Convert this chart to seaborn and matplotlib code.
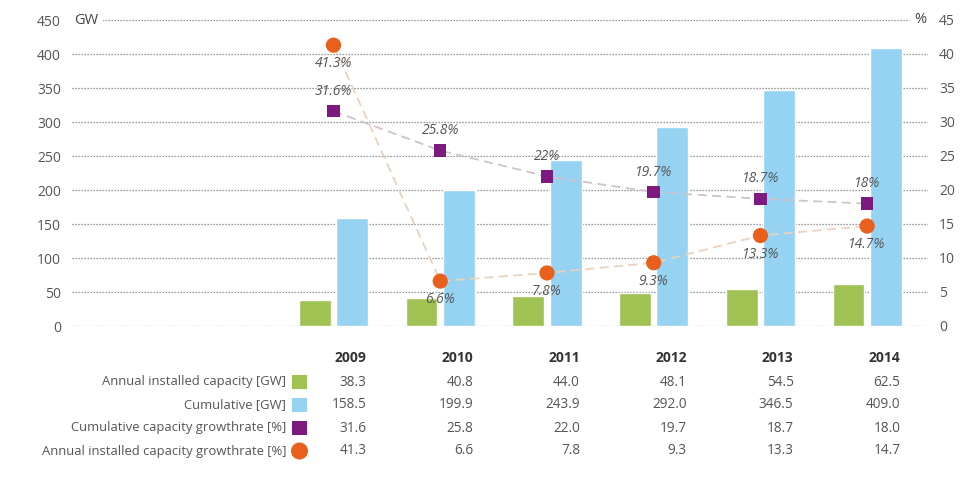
import pandas as pd
import numpy as np
import matplotlib
matplotlib.use('Agg')
import matplotlib.pyplot as plt
import matplotlib.transforms as mtransforms
import seaborn as sns

# Data
years = ['2009', '2010', '2011', '2012', '2013', '2014']
annual_gw = [38.3, 40.8, 44.0, 48.1, 54.5, 62.5]
cumulative_gw = [158.5, 199.9, 243.9, 292.0, 346.5, 409.0]
cum_rate = [31.6, 25.8, 22.0, 19.7, 18.7, 18.0]
annual_rate = [41.3, 6.6, 7.8, 9.3, 13.3, 14.7]
cum_rate_labels = ['31.6%', '25.8%', '22%', '19.7%', '18.7%', '18%']
annual_rate_labels = ['41.3%', '6.6%', '7.8%', '9.3%', '13.3%', '14.7%']
row_labels = ['Annual installed capacity [GW]', 'Cumulative [GW]',
              'Cumulative capacity growthrate [%]', 'Annual installed capacity growthrate [%]']

GREEN = '#9fc253'
BLUE = '#96d3f3'
PURPLE = '#7d1a7e'
ORANGE = '#e8601c'
TXT = '#555555'

sns.set_style('white')
plt.rcParams['font.family'] = ['Open Sans', 'DejaVu Sans']

df = pd.DataFrame({
    'year': years * 2,
    'value': annual_gw + cumulative_gw,
    'series': ['annual'] * 6 + ['cumulative'] * 6,
})

fig = plt.figure(figsize=(9.75, 4.88), dpi=100)
ax = fig.add_axes([72 / 975, 1 - 326 / 488, (928 - 72) / 975, (326 - 20) / 488])

sns.barplot(data=df, x='year', y='value', hue='series', palette=[GREEN, BLUE],
            width=0.7, gap=0.15, ax=ax, legend=False, saturation=1)

ax.set_ylim(0, 450)
ax.set_xlim(-2.45, 5.57)
ax.set_yticks(range(0, 451, 50))
ax.set_xticks([])
ax.set_xlabel('')
ax.set_ylabel('')
ax.yaxis.grid(True, linestyle=(0, (1, 1.4)), color='#7a7a7a', linewidth=0.9)
ax.set_axisbelow(True)
sns.despine(ax=ax, left=True, bottom=True)
ax.tick_params(axis='y', length=0, labelsize=10, labelcolor=TXT, pad=8)
ax.text(0.002, 450, 'GW', fontsize=10.5, color='#444444', va='center', ha='left',
        transform=mtransforms.blended_transform_factory(ax.transAxes, ax.transData),
        bbox=dict(facecolor='white', edgecolor='none', pad=4))

# growth rates on the right axis
ax2 = ax.twinx()
pos = np.arange(len(years))
sns.lineplot(x=pos, y=cum_rate, ax=ax2, color='#cfc3cc', linewidth=1.3,
             linestyle=(0, (5, 3)))
sns.lineplot(x=pos, y=annual_rate, ax=ax2, color='#ead2bd', linewidth=1.3,
             linestyle=(0, (5, 3)))
sns.scatterplot(x=pos, y=cum_rate, ax=ax2, color=PURPLE, marker='s', s=80,
                edgecolor='none', zorder=5)
sns.scatterplot(x=pos, y=annual_rate, ax=ax2, color=ORANGE, marker='o', s=120,
                edgecolor='none', zorder=5)
for x, v, lab in zip(pos, cum_rate, cum_rate_labels):
    ax2.annotate(lab, (x, v), xytext=(0, 9), textcoords='offset points',
                 ha='center', va='bottom', fontsize=10, style='italic', color=TXT)
for x, v, lab in zip(pos, annual_rate, annual_rate_labels):
    ax2.annotate(lab, (x, v), xytext=(0, -8), textcoords='offset points',
                 ha='center', va='top', fontsize=10, style='italic', color=TXT)
ax2.set_ylim(0, 45)
ax2.set_yticks(range(0, 46, 5))
ax2.set_xlim(-2.45, 5.57)
ax2.set_ylabel('')
sns.despine(ax=ax2, left=True, bottom=True, right=True)
ax2.tick_params(axis='y', length=0, labelsize=10, labelcolor=TXT, pad=8)
ax2.text(0.998, 45, '%', fontsize=10.5, color='#444444', va='center', ha='right',
         transform=mtransforms.blended_transform_factory(ax2.transAxes, ax2.transData),
         bbox=dict(facecolor='white', edgecolor='none', pad=3))

# table below the chart
tr = mtransforms.blended_transform_factory(ax.transData, fig.transFigure)
row_y = [1 - 382 / 488, 1 - 405 / 488, 1 - 428 / 488, 1 - 451 / 488]
year_y = 1 - 358 / 488
col_x = pos + 0.31
for x, y in zip(col_x, years):
    fig.text(x, year_y, y, transform=tr, ha='right', va='center', fontsize=10,
             fontweight='bold', color='#333333')
rows = [annual_gw, cumulative_gw, cum_rate, annual_rate]
for y, vals in zip(row_y, rows):
    for x, v in zip(col_x, vals):
        fig.text(x, y, f'{v:.1f}', transform=tr, ha='right', va='center',
                 fontsize=9.8, color=TXT)
for y, lab in zip(row_y, row_labels):
    fig.text(286 / 975, y, lab, ha='right', va='center', fontsize=9.4, color=TXT)
mk = [('s', GREEN, 110), ('s', BLUE, 110), ('s', PURPLE, 110), ('o', ORANGE, 150)]
for y, (m, c, s) in zip(row_y, mk):
    ax.scatter([(299 - 333) / 106.7], [y], marker=m, color=c, s=s, transform=tr,
               clip_on=False, edgecolor='none')

fig.savefig('out.png', dpi=100)
